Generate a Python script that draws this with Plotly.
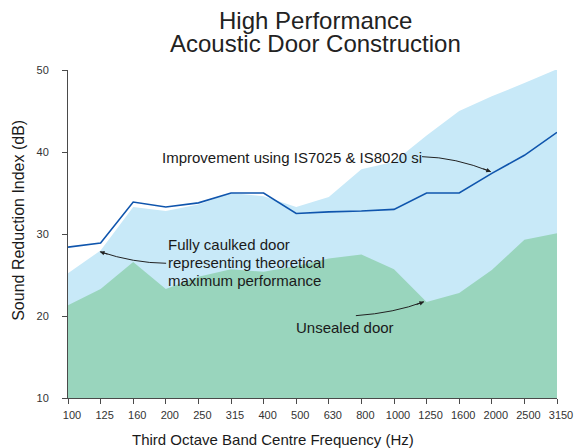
import plotly.graph_objects as go

freq_labels = ["100", "125", "160", "200", "250", "315", "400", "500", "630",
               "800", "1000", "1250", "1600", "2000", "2500", "3150"]
caulked = [25.2, 28.0, 33.3, 32.8, 33.6, 35.0, 34.6, 33.3, 34.5, 37.9, 38.8,
           42.0, 45.0, 46.8, 48.4, 50.1]
unsealed = [21.3, 23.3, 26.6, 23.3, 24.8, 25.7, 25.4, 26.1, 27.0, 27.5, 25.7,
            21.7, 22.8, 25.6, 29.3, 30.1]
improved = [28.4, 28.9, 33.9, 33.3, 33.8, 35.0, 35.0, 32.5, 32.7, 32.8, 33.0,
            35.0, 35.0, 37.4, 39.6, 42.4]

xi = list(range(len(freq_labels)))
FONT = "Liberation Sans, Arial, Helvetica, sans-serif"
TXT = "#1a1a1a"
AX = "#4a4a4a"

# plot-area geometry in pixels (for placing free text)
L, R, T, B = 68, 565, 70, 398


def px(xp):
    return (xp - L) / (R - L)


def py(yp):
    return (B - yp) / (B - T)


fig = go.Figure()
fig.add_trace(go.Scatter(x=xi, y=caulked, mode="lines", line=dict(width=0),
                         fill="tozeroy", fillcolor="#c8e9f8", hoverinfo="skip"))
fig.add_trace(go.Scatter(x=xi, y=unsealed, mode="lines", line=dict(width=0),
                         fill="tozeroy", fillcolor="#99d5bd", hoverinfo="skip"))
fig.add_trace(go.Scatter(x=xi, y=improved, mode="lines",
                         line=dict(color="#0f55ad", width=1.6), hoverinfo="skip"))

fig.update_layout(
    width=585, height=448,
    margin=dict(l=L, r=585 - R, t=T, b=448 - B),
    paper_bgcolor="white", plot_bgcolor="white",
    showlegend=False,
    font=dict(family=FONT, color=TXT, size=11),
    xaxis=dict(range=[0, 15], tickmode="array", tickvals=xi, ticktext=freq_labels,
               showgrid=False, zeroline=False, showline=True, linecolor=AX, linewidth=1,
               ticks="outside", ticklen=5, tickcolor=AX, tickwidth=1,
               ticklabelshift=4, ticklabelstandoff=2,
               tickfont=dict(size=11, color="#333333")),
    yaxis=dict(range=[10, 50], tickvals=[10, 20, 30, 40, 50],
               showgrid=False, zeroline=False, showline=True, linecolor=AX, linewidth=1,
               ticks="outside", ticklen=5, tickcolor=AX, tickwidth=1,
               ticklabelstandoff=11,
               tickfont=dict(size=11, color="#333333")),
    xaxis2=dict(range=[0, 15], overlaying="x", anchor="y", side="bottom",
                tickmode="array", tickvals=xi, showticklabels=False,
                showgrid=False, zeroline=False, showline=False,
                ticks="inside", ticklen=4, tickcolor=AX, tickwidth=1),
    yaxis2=dict(range=[10, 50], overlaying="y", anchor="x", side="left",
                tickvals=[10, 20, 30, 40, 50], showticklabels=False,
                showgrid=False, zeroline=False, showline=False,
                ticks="inside", ticklen=4, tickcolor=AX, tickwidth=1),
)

# Curved leader lines
curves = [
    "M 10.86,39.43 Q 11.88,39.35 12.97,37.60",
    "M 3.01,26.43 Q 2.01,26.46 0.98,27.84",
    "M 8.83,20.04 Q 10.01,20.37 10.92,21.74",
]
for p in curves:
    fig.add_shape(type="path", path=p, xref="x", yref="y",
                  line=dict(color="#222222", width=1))

# Arrow heads
heads = [(12.97, 37.60, -9, -3.5), (0.98, 27.84, 9, 3), (10.92, 21.74, -9, 3.4)]
for x, y, ax, ay in heads:
    fig.add_annotation(x=x, y=y, xref="x", yref="y", text="", showarrow=True,
                       ax=ax, ay=ay, arrowhead=2, arrowsize=0.9, arrowwidth=1,
                       arrowcolor="#222222", standoff=0)

# Free text (pixel positions of left edge / vertical centre)
labels = [
    (161, 157, "Improvement using IS7025 &amp; IS8020 si"),
    (168, 245, "Fully caulked door"),
    (168, 262.5, "representing theoretical"),
    (168, 280, "maximum performance"),
    (298, 327, "Unsealed door"),
]
for x, y, t in labels:
    fig.add_annotation(x=px(x), y=py(y), xref="paper", yref="paper", text=t,
                       showarrow=False, xanchor="left", yanchor="middle", align="left",
                       font=dict(size=15, color=TXT, family=FONT))

# Title lines
for y, t in [(20.5, "High Performance"), (43, "Acoustic Door Construction")]:
    fig.add_annotation(x=px(320), y=py(y), xref="paper", yref="paper", text=t,
                       showarrow=False, xanchor="center", yanchor="middle",
                       font=dict(size=24, color="#222222", family=FONT))

# Axis titles
fig.add_annotation(x=px(276), y=py(439), xref="paper", yref="paper",
                   text="Third Octave Band Centre Frequency (Hz)", showarrow=False,
                   xanchor="center", yanchor="middle",
                   font=dict(size=15, color=TXT, family=FONT))
fig.add_annotation(x=px(17), y=py(220), xref="paper", yref="paper",
                   text="Sound Reduction Index (dB)", showarrow=False, textangle=-90,
                   xanchor="center", yanchor="middle",
                   font=dict(size=16, color=TXT, family=FONT))

fig.write_html("out.html", config={"displayModeBar": False},
               post_script="document.body.style.margin='0';document.body.style.overflow='hidden';")
